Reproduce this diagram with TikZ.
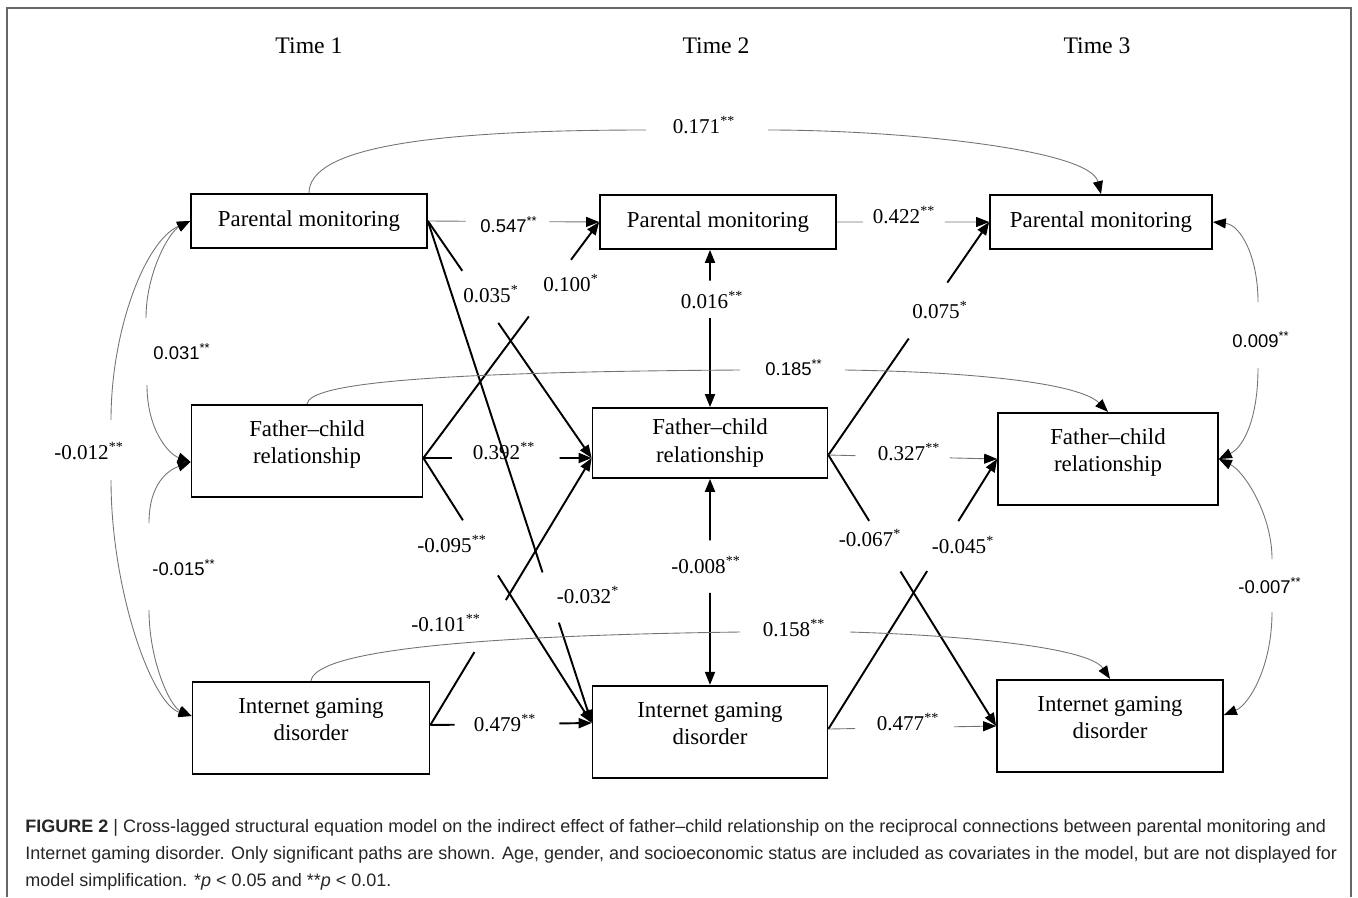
\documentclass[tikz,border=0pt]{standalone}
\usepackage{fontspec}
\setmainfont{Liberation Serif}
\setsansfont{Liberation Sans}
\usetikzlibrary{arrows.meta}
\usetikzlibrary{calc}

\begin{document}
\begin{tikzpicture}[x=0.02cm, y=-0.02cm,
    box/.style={draw, line width=1pt, minimum width=4.72cm, minimum height=1.08cm,
      align=center, inner sep=2pt, font=\fontsize{13}{15.6}\selectfont},
    tallbox/.style={box, minimum height=1.85cm, text height=31pt, text depth=16.4pt},
    timelabel/.style={font=\fontsize{13.5}{16}\selectfont},
    coef/.style={inner sep=1pt, font=\fontsize{12}{14}\selectfont},
    coefsf/.style={inner sep=1pt, font=\sffamily\fontsize{10.5}{12}\selectfont},
    blk/.style={line width=1.1pt},
    thinline/.style={line width=0.5pt, black!55},
    tip/.style={-{Triangle[length=0.26cm, width=0.2cm, color=black]}},
    tipback/.style={{Triangle[length=0.26cm, width=0.2cm, color=black]}-},
    caption/.style={align=left, inner sep=0pt, text=black!85,
      font=\sffamily\fontsize{10.25}{15.3}\selectfont}]
  \useasboundingbox (0,0) rectangle (1358,897);
  \draw[black!60, line width=0.8pt] (7,897) -- (7,8) -- (1351,8) -- (1351,897);

  % time points
  \node[timelabel] (t1) at (309,46) {Time 1};
  \node[timelabel] (t2) at (716,46) {Time 2};
  \node[timelabel] (t3) at (1097,46) {Time 3};

  % variables
  \node[box] (pm1) at (309,221) {Parental monitoring};
  \node[box] (pm2) at (718,222) {Parental monitoring};
  \node[box, minimum width=4.44cm] (pm3) at (1101,222) {Parental monitoring};
  \node[tallbox, minimum width=4.62cm] (fc1) at (307,451) {Father--child\\relationship};
  \node[box, minimum width=4.7cm, minimum height=1.4cm] (fc2) at (710,443) {Father--child\\relationship};
  \node[tallbox, minimum width=4.4cm] (fc3) at (1108,459) {Father--child\\relationship};
  \node[tallbox, minimum width=4.74cm] (igd1) at (311,728) {Internet gaming\\disorder};
  \node[tallbox, minimum width=4.7cm] (igd2) at (710,732) {Internet gaming\\disorder};
  \node[tallbox, minimum width=4.52cm] (igd3) at (1110,726) {Internet gaming\\disorder};

  \coordinate (fc1out) at ($(fc1.east)+(0,7)$);
  \coordinate (igd1out) at ($(igd1.east)+(0,-3)$);
  \coordinate (fc2in) at ($(fc2.west)+(0,15)$);
  \coordinate (igd2in) at ($(igd2.west)+(0,-9)$);
  \coordinate (fc2out) at ($(fc2.east)+(0,12)$);
  \coordinate (igd2out) at ($(igd2.east)+(0,-3)$);
  \coordinate (pm2b) at (fc2.north |- pm2.south);
  \coordinate (fc1w) at ($(fc1.west)+(0,11)$);
  \coordinate (igd1w) at ($(igd1.west)+(0,-12)$);
  \coordinate (igd3e) at ($(igd3.east)+(0,-11)$);

  % coefficients
  \node[coefsf] (c547) at (509,225) {0.547\textsuperscript{**}};
  \node[coef] (c422) at (904,215) {0.422\textsuperscript{**}};
  \node[coef] (c392) at (504,451) {0.392\textsuperscript{**}};
  \node[coef] (c327) at (909,452) {0.327\textsuperscript{**}};
  \node[coef] (c479) at (505,723) {0.479\textsuperscript{**}};
  \node[coef] (c477) at (908,722) {0.477\textsuperscript{**}};
  \node[coef] (c035) at (491,294) {0.035\textsuperscript{*}};
  \node[coef] (c100) at (571,283) {0.100\textsuperscript{*}};
  \node[coef] (c016) at (712,300) {0.016\textsuperscript{**}};
  \node[coef] (c075) at (940,310) {0.075\textsuperscript{*}};
  \node[coef] (c095) at (452,544) {-0.095\textsuperscript{**}};
  \node[coef] (c032) at (588,595) {-0.032\textsuperscript{*}};
  \node[coef] (c101) at (446,623) {-0.101\textsuperscript{**}};
  \node[coef] (c008) at (706,565) {-0.008\textsuperscript{**}};
  \node[coef] (c067) at (870,538) {-0.067\textsuperscript{*}};
  \node[coef] (c045) at (963,545) {-0.045\textsuperscript{*}};
  \node[coef] (c171) at (704,125) {0.171\textsuperscript{**}};
  \node[coefsf] (c185) at (794,368) {0.185\textsuperscript{**}};
  \node[coef] (c158) at (794,628) {0.158\textsuperscript{**}};
  \node[coefsf] (c031) at (182,352) {0.031\textsuperscript{**}};
  \node[coefsf] (c015) at (184,568) {-0.015\textsuperscript{**}};
  \node[coef] (c012) at (89,451) {-0.012\textsuperscript{**}};
  \node[coefsf] (c009) at (1261,340) {0.009\textsuperscript{**}};
  \node[coefsf] (c007) at (1270,586) {-0.007\textsuperscript{**}};

  % time 1 -> time 2
  \draw[thinline] (pm1.east) -- ($(pm1.east)!0.22!(pm2.west)$);
  \draw[thinline, tip] ($(pm1.east)!0.71!(pm2.west)$) -- (pm2.west);
  \draw[blk] (pm1.east) -- ($(pm1.east)!0.21!(fc2in)$);
  \draw[blk, tip] ($(pm1.east)!0.43!(fc2in)$) -- (fc2in);
  \draw[blk] (pm1.east) -- ($(pm1.east)!0.70!(igd2in)$);
  \draw[blk, tip] ($(pm1.east)!0.80!(igd2in)$) -- (igd2in);
  \draw[blk] (fc1out) -- ($(fc1out)!0.60!(pm2.west)$);
  \draw[blk, tip] ($(fc1out)!0.84!(pm2.west)$) -- (pm2.west);
  \draw[blk] (fc1out) -- ($(fc1out)!0.17!(fc2in)$);
  \draw[blk, tip] ($(fc1out)!0.81!(fc2in)$) -- (fc2in);
  \draw[blk] (fc1out) -- ($(fc1out)!0.235!(igd2in)$);
  \draw[blk, tip] ($(fc1out)!0.443!(igd2in)$) -- (igd2in);
  \draw[blk] (igd1out) -- ($(igd1out)!0.273!(fc2in)$);
  \draw[blk, tip] ($(igd1out)!0.468!(fc2in)$) -- (fc2in);
  \draw[blk] (igd1out) -- ($(igd1out)!0.15!(igd2in)$);
  \draw[blk, tip] ($(igd1out)!0.80!(igd2in)$) -- (igd2in);

  % time 2 -> time 3
  \draw[thinline] (pm2.east) -- ($(pm2.east)!0.17!(pm3.west)$);
  \draw[thinline, tip] ($(pm2.east)!0.71!(pm3.west)$) -- (pm3.west);
  \draw[blk] (fc2out) -- ($(fc2out)!0.50!(pm3.west)$);
  \draw[blk, tip] ($(fc2out)!0.74!(pm3.west)$) -- (pm3.west);
  \draw[thinline] (fc2out) -- ($(fc2out)!0.16!(fc3.west)$);
  \draw[thinline, tip] ($(fc2out)!0.72!(fc3.west)$) -- (fc3.west);
  \draw[blk] (fc2out) -- ($(fc2out)!0.243!(igd3.west)$);
  \draw[blk, tip] ($(fc2out)!0.43!(igd3.west)$) -- (igd3.west);
  \draw[blk] (igd2out) -- ($(igd2out)!0.585!(fc3.west)$);
  \draw[blk, tip] ($(igd2out)!0.77!(fc3.west)$) -- (fc3.west);
  \draw[thinline] (igd2out) -- ($(igd2out)!0.16!(igd3.west)$);
  \draw[thinline, tip] ($(igd2out)!0.75!(igd3.west)$) -- (igd3.west);

  % within time 2
  \draw[blk, tip] ($(pm2b)!0.195!(fc2.north)$) -- (pm2b);
  \draw[blk, tip] ($(pm2b)!0.434!(fc2.north)$) -- (fc2.north);
  \draw[blk, tip] ($(fc2.south)!0.298!(igd2.north)$) -- (fc2.south);
  \draw[blk, tip] ($(fc2.south)!0.553!(igd2.north)$) -- (igd2.north);

  % time 1 -> time 3
  \draw[thinline] (pm1.north) .. controls +(0,-44) and +(-226,0) .. ($(c171)+(-58,5)$);
  \draw[thinline, tip] ($(c171)+(64,5)$) .. controls +(132,0) and +(-11,-45) .. (pm3.north);
  \draw[thinline] (fc1.north) .. controls +(3,-20) and +(-320,2) .. ($(c185)+(-54,2)$);
  \draw[thinline, tip] ($(c185)+(51,2)$) .. controls +(135,2) and +(-28,-28) .. (fc3.north);
  \draw[thinline] (igd1.north) .. controls +(4,-27) and +(-300,4) .. ($(c158)+(-54,4)$);
  \draw[thinline, tip] ($(c158)+(56,4)$) .. controls +(130,4) and +(-20,-30) .. (igd3.north);

  % time 1 covariances
  \draw[thinline, tipback] (pm1.west) .. controls +(-21,11) and +(0,-45) .. ($(c031)+(-36,-34)$);
  \draw[thinline, tip] ($(c031)+(-35,33)$) .. controls +(0,45) and +(-22,-8) .. (fc1w);
  \draw[thinline, tipback] (fc1w) .. controls +(-22,8) and +(0,-40) .. ($(c015)+(-35,-45)$);
  \draw[thinline, tip] ($(c015)+(-35,42)$) .. controls +(0,50) and +(-22,-10) .. (igd1w);
  \draw[thinline, tipback] (pm1.west) .. controls +(-45,20) and +(0,-90) .. ($(c012)+(22,-31)$);
  \draw[thinline, tip] ($(c012)+(22,29)$) .. controls +(0,110) and +(-40,-12) .. (igd1w);

  % time 3 covariances
  \draw[thinline, tip] ($(c009)+(-3,-38)$) .. controls +(0,-45) and +(28,3) .. (pm3.east);
  \draw[thinline, tip] ($(c009)+(-3,28)$) .. controls +(0,50) and +(25,-12) .. (fc3.east);
  \draw[thinline, tipback] (fc3.east) .. controls +(25,12) and +(0,-45) .. ($(c007)+(2,-27)$);
  \draw[thinline, tip] ($(c007)+(2,26)$) .. controls +(0,55) and +(25,-10) .. (igd3e);

  \node[caption, anchor=north west] (cap) at (25,819) {\textbf{FIGURE 2} | Cross-lagged structural equation model on the indirect effect of father--child relationship on the reciprocal connections between parental monitoring and\\
  Internet gaming disorder. Only significant paths are shown. Age, gender, and socioeconomic status are included as covariates in the model, but are not displayed for\\
  model simplification. *\textit{p} < 0.05 and **\textit{p} < 0.01.};
\end{tikzpicture}
\end{document}
